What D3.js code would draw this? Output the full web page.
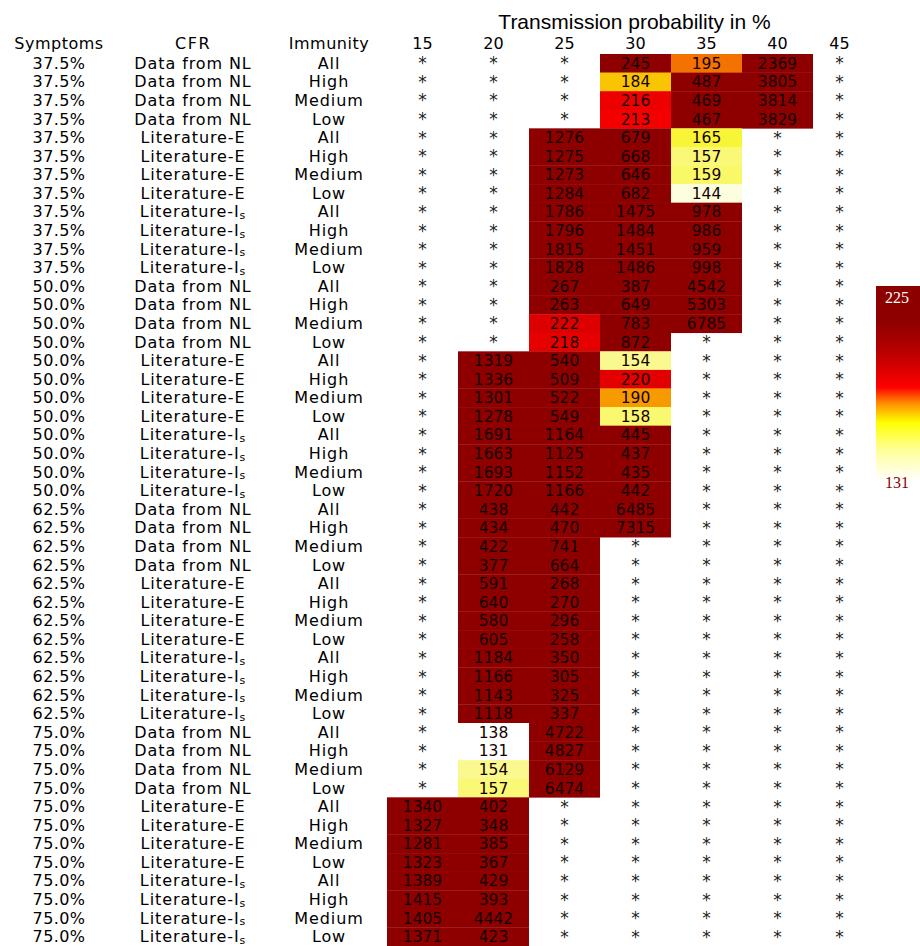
<!DOCTYPE html>
<html>
<head>
<meta charset="utf-8">
<script src="https://cdn.jsdelivr.net/npm/d3@7"></script>
<style>
  html, body { margin: 0; padding: 0; background: #fff; }
  svg { display: block; }
</style>
</head>
<body>
<svg id="chart" width="920" height="946"></svg>
<script>
// ---------------- DATA ----------------
const symptoms = ["37.5%", "50.0%", "62.5%", "75.0%"];
const cfrGroups = ["Data from NL", "Literature-E", "Literature-Is"];
const immunity = ["All", "High", "Medium", "Low"];
const transmission = ["15", "20", "25", "30", "35", "40", "45"];
const headerLabels = ["Symptoms", "CFR", "Immunity"];
const title = "Transmission probability in %";
const legendMax = 225;
const legendMin = 131;

// values: rows = CFR group x immunity, columns = transmission 15..45 (null = "*")
const values375 = [
  [null, null, null, 245, 195, 2369, null],
  [null, null, null, 184, 487, 3805, null],
  [null, null, null, 216, 469, 3814, null],
  [null, null, null, 213, 467, 3829, null],
  [null, null, 1276, 679, 165, null, null],
  [null, null, 1275, 668, 157, null, null],
  [null, null, 1273, 646, 159, null, null],
  [null, null, 1284, 682, 144, null, null],
  [null, null, 1786, 1475, 978, null, null],
  [null, null, 1796, 1484, 986, null, null],
  [null, null, 1815, 1451, 959, null, null],
  [null, null, 1828, 1486, 998, null, null]
];
const values500 = [
  [null, null, 267, 387, 4542, null, null],
  [null, null, 263, 649, 5303, null, null],
  [null, null, 222, 783, 6785, null, null],
  [null, null, 218, 872, null, null, null],
  [null, 1319, 540, 154, null, null, null],
  [null, 1336, 509, 220, null, null, null],
  [null, 1301, 522, 190, null, null, null],
  [null, 1278, 549, 158, null, null, null],
  [null, 1691, 1164, 445, null, null, null],
  [null, 1663, 1125, 437, null, null, null],
  [null, 1693, 1152, 435, null, null, null],
  [null, 1720, 1166, 442, null, null, null]
];
const values625 = [
  [null, 438, 442, 6485, null, null, null],
  [null, 434, 470, 7315, null, null, null],
  [null, 422, 741, null, null, null, null],
  [null, 377, 664, null, null, null, null],
  [null, 591, 268, null, null, null, null],
  [null, 640, 270, null, null, null, null],
  [null, 580, 296, null, null, null, null],
  [null, 605, 258, null, null, null, null],
  [null, 1184, 350, null, null, null, null],
  [null, 1166, 305, null, null, null, null],
  [null, 1143, 325, null, null, null, null],
  [null, 1118, 337, null, null, null, null]
];
const values750 = [
  [null, 138, 4722, null, null, null, null],
  [null, 131, 4827, null, null, null, null],
  [null, 154, 6129, null, null, null, null],
  [null, 157, 6474, null, null, null, null],
  [1340, 402, null, null, null, null, null],
  [1327, 348, null, null, null, null, null],
  [1281, 385, null, null, null, null, null],
  [1323, 367, null, null, null, null, null],
  [1389, 429, null, null, null, null, null],
  [1415, 393, null, null, null, null, null],
  [1405, 4442, null, null, null, null, null],
  [1371, 423, null, null, null, null, null]
];
const valueBlocks = [values375, values500, values625, values750];

// colour stops (value -> colour)
const colorDomain = [131, 139, 144, 155, 166, 185, 195, 212, 222, 232];
const colorRange  = ["#ffffff", "#ffffff", "#fdfddf", "#f9f987", "#f8f52e", "#f9c100", "#f47200", "#f80000", "#dc0000", "#8e0000"];
// legend gradient stops (offset from top, colour)
const legendOffsets = [0, 0.18, 0.36, 0.52, 0.6, 0.7, 0.84, 1];
const legendColors  = ["#8b0000", "#8e0000", "#c00000", "#ff0000", "#ff8c00", "#ffff00", "#ffff98", "#ffffff"];

// ---------------- BUILD ROWS ----------------
const rows = [];
symptoms.forEach((s, si) => {
  cfrGroups.forEach((c, ci) => {
    immunity.forEach((im, ii) => {
      rows.push({ symptoms: s, cfr: c, immunity: im, vals: valueBlocks[si][ci * immunity.length + ii] });
    });
  });
});

// ---------------- SCALES ----------------
const svg = d3.select("#chart");
const font = "'DejaVu Sans', Verdana, sans-serif";

const x = d3.scaleBand().domain(transmission).range([387, 884]);
const y = d3.scaleBand().domain(d3.range(rows.length)).range([54, 946]);
const labelX = d3.scaleOrdinal().domain(headerLabels).range([59, 193, 329]);
const color = d3.scaleLinear().domain(colorDomain).range(colorRange).clamp(true);
// text centre of a transmission column (last column is narrower, next to the legend)
const colCenter = t => t === transmission[transmission.length - 1]
  ? x(t) + x.bandwidth() / 2 - 9
  : x(t) + x.bandwidth() / 2;

// ---------------- CELLS ----------------
const cells = [];
rows.forEach((r, ri) => r.vals.forEach((v, ti) => cells.push({ ri, t: transmission[ti], v })));

svg.append("g").selectAll("rect")
  .data(cells.filter(d => d.v !== null))
  .join("rect")
  .attr("x", d => x(d.t))
  .attr("y", d => y(d.ri))
  .attr("width", x.bandwidth())
  .attr("height", y.bandwidth() + 0.3)
  .attr("fill", d => color(d.v));

svg.append("g").selectAll("text")
  .data(cells)
  .join("text")
  .attr("x", d => colCenter(d.t))
  .attr("y", d => y(d.ri) + y.bandwidth() / 2 + (d.v === null ? 6 : 5.5))
  .attr("text-anchor", "middle")
  .attr("font-family", font)
  .attr("font-size", d => d.v === null ? 17 : 15.5)
  .attr("fill", d => d.v === null ? "#222" : "#150000")
  .text(d => d.v === null ? "*" : d.v);

// ---------------- ROW LABELS ----------------
const lab = svg.append("g").attr("font-family", font).attr("font-size", 16).attr("fill", "#000");
const keys = { Symptoms: "symptoms", CFR: "cfr", Immunity: "immunity" };
headerLabels.forEach(h => {
  const k = keys[h];
  const t = lab.selectAll("text." + k)
    .data(rows)
    .join("text")
    .attr("class", k)
    .attr("x", labelX(h))
    .attr("y", (d, i) => y(i) + y.bandwidth() / 2 + 5.5)
    .attr("text-anchor", "middle")
    .attr("letter-spacing", k === "symptoms" ? 0.4 : 0.9);
  t.each(function (d) {
    const el = d3.select(this);
    const txt = d[k];
    if (txt.endsWith("-Is")) {
      el.append("tspan").text(txt.slice(0, -1));
      el.append("tspan").attr("font-size", 11).attr("dy", 1.5).text("s");
    } else {
      el.text(txt);
    }
  });
});

// ---------------- HEADERS ----------------
svg.append("g").selectAll("text")
  .data(headerLabels)
  .join("text")
  .attr("x", d => labelX(d))
  .attr("y", 49)
  .attr("text-anchor", "middle")
  .attr("font-family", font)
  .attr("font-size", 16)
  .attr("letter-spacing", d => d === "CFR" ? 1.5 : 0.5)
  .text(d => d);

svg.append("g").selectAll("text")
  .data(transmission)
  .join("text")
  .attr("x", d => colCenter(d))
  .attr("y", 49)
  .attr("text-anchor", "middle")
  .attr("font-family", font)
  .attr("font-size", 16)
  .text(d => d);

svg.append("text")
  .attr("x", (x("15") + x("45") + x.bandwidth()) / 2 - 1)
  .attr("y", 29)
  .attr("text-anchor", "middle")
  .attr("font-family", "'Liberation Sans', Arial, sans-serif")
  .attr("font-size", 21)
  .text(title);

// ---------------- LEGEND ----------------
const defs = svg.append("defs");
const grad = defs.append("linearGradient").attr("id", "lg").attr("x1", 0).attr("y1", 0).attr("x2", 0).attr("y2", 1);
grad.selectAll("stop").data(legendOffsets).join("stop")
  .attr("offset", d => d)
  .attr("stop-color", (d, i) => legendColors[i]);

const ly = d3.scaleLinear().domain([legendMin, legendMax]).range([481, 286]);
svg.append("rect")
  .attr("x", 876).attr("y", ly(legendMax))
  .attr("width", 44).attr("height", ly(legendMin) - ly(legendMax))
  .attr("fill", "url(#lg)");
svg.append("text")
  .attr("x", 897).attr("y", ly(legendMax) + 17)
  .attr("text-anchor", "middle")
  .attr("font-family", "'Liberation Serif', serif").attr("font-size", 16)
  .attr("fill", "#fff").text(legendMax);
svg.append("text")
  .attr("x", 897).attr("y", ly(legendMin) + 7)
  .attr("text-anchor", "middle")
  .attr("font-family", "'Liberation Serif', serif").attr("font-size", 16)
  .attr("fill", "#8b0000").text(legendMin);
</script>
</body>
</html>
